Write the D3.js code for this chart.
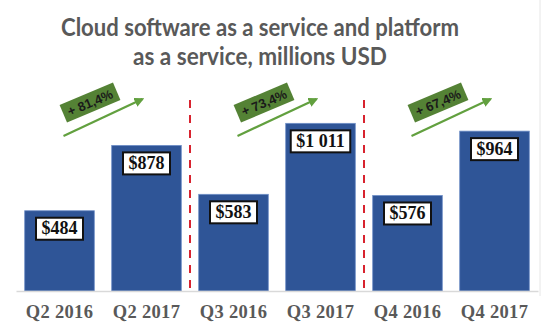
<!DOCTYPE html>
<html>
<head>
<meta charset="utf-8">
<script src="https://cdn.jsdelivr.net/npm/d3@7/dist/d3.min.js"></script>
<style>
  html, body { margin: 0; padding: 0; background: #ffffff; }
  svg { display: block; }
</style>
</head>
<body>
<svg id="chart" width="554" height="330"></svg>
<script>
// Quarterly revenue, millions USD
const categories = ["Q2 2016", "Q2 2017", "Q3 2016", "Q3 2017", "Q4 2016", "Q4 2017"];
const values = [484, 878, 583, 1011, 576, 964];
const valueLabels = ["$484", "$878", "$583", "$1 011", "$576", "$964"];
// Year-over-year growth for each quarter pair
const growthLabels = ["+ 81,4%", "+ 73,4%", "+ 67,4%"];
const titleLines = ["Cloud software as a service and platform", "as a service, millions USD"];

const svg = d3.select("#chart");

const x = d3.scaleBand().domain(categories).range([16, 538]).paddingInner(0.2).paddingOuter(0.1);
const y = d3.scaleLinear().domain([0, 1200]).range([291, 92]);
const bw = x.bandwidth();

// Right frame line
svg.append("line")
  .attr("x1", 540).attr("x2", 540).attr("y1", 0).attr("y2", 296)
  .attr("stroke", "#e6e6e6").attr("stroke-width", 1);

// Title
const titleTextLengths = [398, 254];
titleLines.forEach((t, i) => {
  svg.append("text")
    .attr("x", 260).attr("y", 36 + i * 29)
    .attr("text-anchor", "middle")
    .attr("font-family", "Lato, 'Open Sans', sans-serif")
    .attr("font-weight", "bold")
    .attr("font-size", 25)
    .attr("fill", "#595959")
    .attr("textLength", titleTextLengths[i])
    .attr("lengthAdjust", "spacingAndGlyphs")
    .text(t);
});

// Bars
svg.append("g").selectAll("rect")
  .data(values)
  .join("rect")
  .attr("x", (d, i) => x(categories[i]))
  .attr("y", d => y(d))
  .attr("width", bw)
  .attr("height", d => y(0) - y(d))
  .attr("fill", "#2f5597")
  .attr("stroke", "#6f8fc7")
  .attr("stroke-width", 0.8);

// Baseline axis
const xAxis = d3.axisBottom(x).tickSize(0).tickPadding(0);
const ax = svg.append("g").attr("transform", `translate(0,${y(0)})`).call(xAxis);
ax.select(".domain").attr("stroke", "#d9d9d9").attr("stroke-width", 1.5);
ax.selectAll(".tick text")
  .attr("dy", 0)
  .attr("y", 27)
  .attr("font-family", "'Liberation Serif', 'Times New Roman', serif")
  .attr("font-weight", "bold")
  .attr("font-size", 18.5)
  .attr("letter-spacing", 0.3)
  .attr("fill", "#595959");

// Value labels in boxed callouts
const lab = svg.append("g").selectAll("g")
  .data(values)
  .join("g")
  .attr("transform", (d, i) => `translate(${x(categories[i]) + bw / 2},${y(d) + 7})`);

lab.each(function (d, i) {
  const g = d3.select(this);
  const t = g.append("text")
    .attr("x", 0).attr("y", 16.5)
    .attr("text-anchor", "middle")
    .attr("font-family", "'Liberation Serif', 'Times New Roman', serif")
    .attr("font-weight", "bold")
    .attr("font-size", 18)
    .attr("fill", "#111111")
    .text(valueLabels[i]);
  const w = t.node().getComputedTextLength() + 11;
  g.insert("rect", "text")
    .attr("x", -w / 2).attr("y", 0)
    .attr("width", w).attr("height", 22)
    .attr("fill", "#ffffff")
    .attr("stroke", "#111111")
    .attr("stroke-width", 2);
});

// Dashed separators between quarter pairs
[1, 3].forEach(i => {
  const sx = (x(categories[i]) + bw + x(categories[i + 1])) / 2;
  svg.append("line")
    .attr("x1", sx).attr("x2", sx)
    .attr("y1", 100).attr("y2", y(0))
    .attr("stroke", "#d8232f")
    .attr("stroke-width", 2)
    .attr("stroke-dasharray", "8,7");
});

// Growth arrows with rotated labels
const defs = svg.append("defs");
defs.append("marker")
  .attr("id", "arrowhead")
  .attr("viewBox", "0 0 10 10")
  .attr("refX", 8).attr("refY", 5)
  .attr("markerWidth", 4.5).attr("markerHeight", 4.5)
  .attr("orient", "auto")
  .append("path")
  .attr("d", "M0,0 L10,5 L0,10 Z")
  .attr("fill", "#62a03f");

growthLabels.forEach((g, k) => {
  const a = categories[2 * k], b = categories[2 * k + 1];
  const x1 = x(a) + bw / 2 + 4, x2 = x(b) + bw / 2 - 4;
  const y1 = 136, y2 = 99;
  svg.append("line")
    .attr("x1", x1).attr("y1", y1).attr("x2", x2).attr("y2", y2)
    .attr("stroke", "#62a03f")
    .attr("stroke-width", 2.2)
    .attr("marker-end", "url(#arrowhead)");
  const cx = (x1 + x2) / 2 - 13, cy = (y1 + y2) / 2 - 15;
  const grp = svg.append("g").attr("transform", `translate(${cx},${cy}) rotate(-23)`);
  grp.append("rect")
    .attr("x", -29).attr("y", -9.5)
    .attr("width", 58).attr("height", 19)
    .attr("fill", "#548235");
  grp.append("text")
    .attr("x", 0).attr("y", 4.8)
    .attr("text-anchor", "middle")
    .attr("font-family", "'Liberation Sans', Arial, sans-serif")
    .attr("font-weight", "bold")
    .attr("font-size", 13)
    .attr("fill", "#1a1a1a")
    .text(g);
});
</script>
</body>
</html>
